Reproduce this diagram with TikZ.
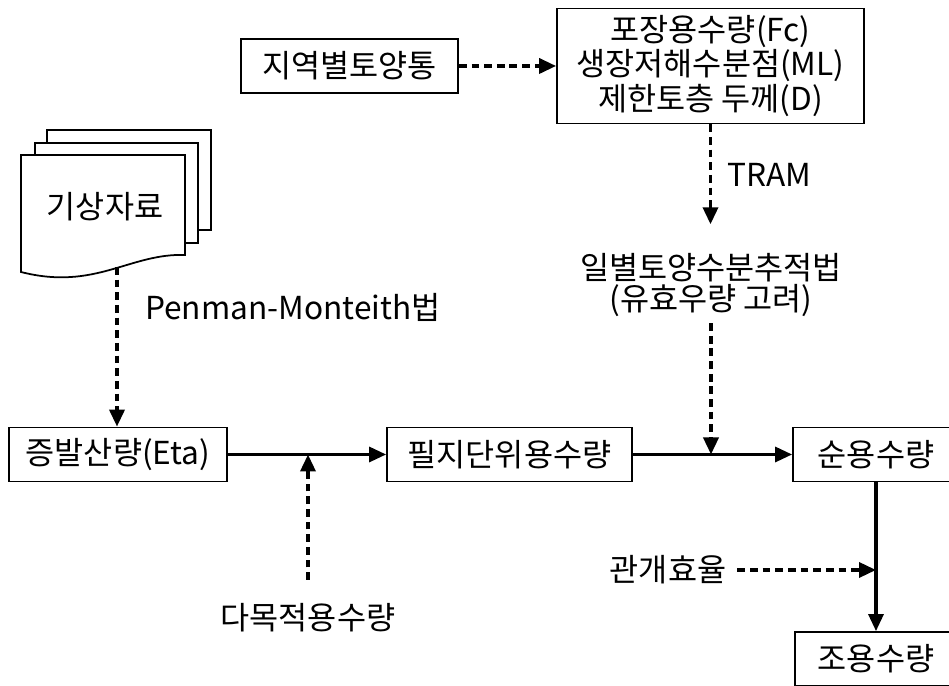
\documentclass[tikz,border=0pt]{standalone}
\usepackage{fontspec}
\setmainfont{Noto Sans CJK KR}
\usetikzlibrary{arrows.meta}

\begin{document}
\begin{tikzpicture}[scale=1,
    every node/.style={font=\fontsize{18}{18}\selectfont},
    kbox/.style={draw, line width=1pt, minimum height=1.08cm, align=center, inner sep=2pt},
    solidarrow/.style={line width=1.8pt, -{Triangle[length=0.34cm,width=0.3cm]}},
    dasharrow/.style={solidarrow, line width=2pt, dash pattern=on 4.4pt off 2.8pt}]
    \useasboundingbox (0,0) rectangle (18.98,13.72);

    % 토양 자료
    \node[kbox, minimum width=4.34cm] (soil) at (6.99,12.40) {지역별토양통};
    \node[kbox, minimum width=6.14cm, minimum height=2.30cm] (param) at (14.21,12.40)
        {포장용수량(Fc)\\생장저해수분점(ML)\\제한토층 두께(D)};
    \draw[dasharrow] (soil) -- (param);

    % 기상자료 (겹친 문서)
    \draw[line width=1pt, fill=white] (0.94,9.12) rectangle (4.22,11.12);
    \draw[line width=1pt, fill=white] (0.70,8.86) rectangle (3.96,10.86);
    \draw[line width=1pt, fill=white]
        (0.42,10.62) -- (3.70,10.62) -- (3.70,8.62)
        .. controls (2.6,8.66) and (1.9,7.9) .. (0.42,8.28) -- cycle;
    \node (weather) at (2.10,9.58) {기상자료};
    \coordinate (wave) at (2.34,8.38);

    % 증발산량 -> 필지단위용수량 -> 순용수량
    \node[kbox, minimum width=4.36cm] (evap) at (2.36,4.63) {증발산량(Eta)};
    \node[kbox, minimum width=4.90cm] (field) at (10.19,4.63) {필지단위용수량};
    \node[kbox, minimum width=3.32cm] (net) at (17.52,4.63) {순용수량};
    \node[kbox, minimum width=3.24cm] (gross) at (17.52,0.54) {조용수량};

    \draw[dasharrow] (wave) -- (wave |- evap.north);
    \node[anchor=west] (pm) at (2.78,7.58) {Penman-Monteith법};

    \draw[solidarrow] (evap) -- (field);
    \draw[solidarrow] (field) -- (net);
    \draw[solidarrow] (net) -- (gross);

    % 다목적용수량
    \node (multi) at (6.16,1.36) {다목적용수량};
    \draw[dasharrow, shorten <=0.35cm] (multi.north) -- (multi.north |- evap.east);

    % 일별토양수분추적법
    \node[align=center] (method) at (14.22,8.02) {일별토양수분추적법\\(유효우량 고려)};
    \draw[dasharrow, shorten >=0.45cm] (param.south) -- (param.south |- method.north);
    \node[anchor=west] (tram) at (14.42,10.22) {TRAM};
    \draw[dasharrow] (method.south) -- (method.south |- field.east);

    % 관개효율
    \node (irr) at (13.36,2.32) {관개효율};
    \draw[dasharrow, shorten <=0.1cm] (irr.east) -- (net.south |- irr.east);
\end{tikzpicture}
\end{document}
